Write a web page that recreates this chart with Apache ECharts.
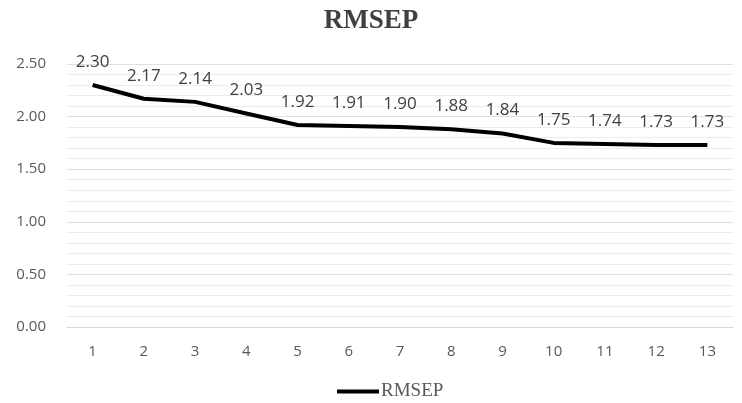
<!DOCTYPE html>
<html><head><meta charset="utf-8">
<script src="https://cdn.jsdelivr.net/npm/echarts@6/dist/echarts.min.js"></script>
<style>html,body{margin:0;padding:0;background:#fff}#c{width:742px;height:403px}</style>
</head><body><div id="c"></div>
<script>
var categories = ['1','2','3','4','5','6','7','8','9','10','11','12','13'];
var rmsep = [2.30,2.17,2.14,2.03,1.92,1.91,1.90,1.88,1.84,1.75,1.74,1.73,1.73];
var seriesName = 'RMSEP';
var chart = echarts.init(document.getElementById('c'));
chart.setOption({
  animation:false,
  title:{text:'RMSEP',left:'center',top:3,textStyle:{fontFamily:'Liberation Serif',fontWeight:'bold',fontSize:27,color:'#404040'}},
  grid:{left:67,right:9,top:64,bottom:76,containLabel:false},
  legend:{top:377,left:332,itemWidth:42,itemHeight:4,icon:'rect',itemGap:4,
    itemStyle:{color:'#000',opacity:1},
    textStyle:{fontFamily:'Liberation Serif',fontSize:19,color:'#595959',padding:[0,0,0,-3]},data:[seriesName]},
  xAxis:{type:'category',data:categories,boundaryGap:true,
    axisLine:{lineStyle:{color:'#d9d9d9',width:1}},axisTick:{show:false},
    axisLabel:{fontFamily:'Open Sans',fontSize:15,color:'#595959',margin:17}},
  yAxis:{type:'value',min:0,max:2.5,interval:0.5,
    axisLine:{show:false},axisTick:{show:false},
    axisLabel:{fontFamily:'Open Sans',fontSize:15,color:'#595959',margin:21,formatter:function(v){return v.toFixed(2);}},
    splitLine:{lineStyle:{color:'#e0e0e0',width:1}},
    minorTick:{show:false,splitNumber:5},
    minorSplitLine:{show:true,lineStyle:{color:'#ececec',width:1}}},
  series:[{name:seriesName,type:'line',data:rmsep,showSymbol:true,symbol:'circle',symbolSize:1,
    lineStyle:{color:'#000',width:4},itemStyle:{color:'rgba(0,0,0,0)'},
    label:{show:true,position:'top',distance:14,fontFamily:'Open Sans',fontSize:17,color:'#404040',formatter:function(p){return p.value.toFixed(2);}}}]
});
</script></body></html>
